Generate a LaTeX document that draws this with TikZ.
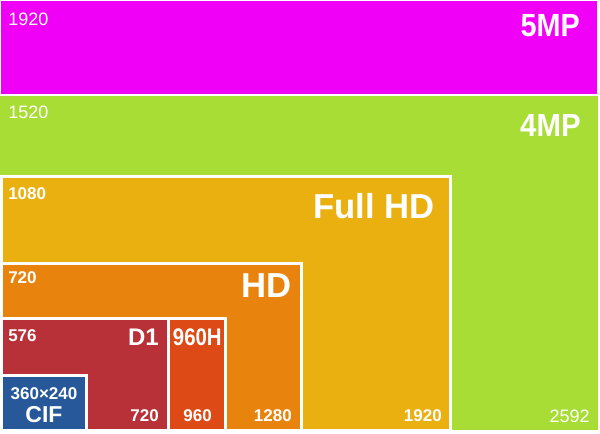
\documentclass[tikz,border=0pt]{standalone}
\usepackage{fontspec}
\usepackage{graphicx}
\setmainfont{Liberation Sans}
\usepackage{xcolor}
\definecolor{mpmagenta}{RGB}{240,0,246}
\definecolor{mpgreen}{RGB}{167,221,52}
\definecolor{fhdgold}{RGB}{233,176,16}
\definecolor{hdorange}{RGB}{232,131,14}
\definecolor{donered}{RGB}{184,48,56}
\definecolor{h960red}{RGB}{222,74,22}
\definecolor{cifblue}{RGB}{38,88,154}

\begin{document}
\begin{tikzpicture}[x=0.75pt,y=-0.75pt]
\tikzstyle{every node}+=[inner sep=0pt, text=white]
\tikzstyle{res}=[draw=white, line width=2.25pt]
\tikzstyle{sidereg}=[font=\fontsize{13.5}{14}\selectfont]
\tikzstyle{sidenum}=[font=\bfseries\fontsize{12.75}{13}\selectfont]
\tikzstyle{bigname}=[font=\bfseries\fontsize{26}{28}\selectfont]
\tikzstyle{mpname}=[font=\bfseries\fontsize{24}{26}\selectfont]
\tikzstyle{midname}=[font=\bfseries\fontsize{18}{20}\selectfont]
\tikzstyle{cifname}=[font=\bfseries\fontsize{17.25}{18}\selectfont]

\fill [white] (0,0) rectangle (600,433);
\useasboundingbox (0,0) rectangle (600,433);

\fill [mpmagenta] (1,1) rectangle (597,94);
\fill [mpgreen] (0,96) rectangle (598,430);

\filldraw [res, fill=fhdgold] (1.5,176.5) rectangle (450.5,430);
\filldraw [res, fill=hdorange] (1.5,263) rectangle (301.5,430);
\filldraw [res, fill=donered] (1.5,318.5) rectangle (168.5,430);
\filldraw [res, fill=h960red] (168.5,318.5) rectangle (225.7,430);
\filldraw [res, fill=cifblue] (1.5,375.3) rectangle (86,430);

\node [sidereg, anchor=base west] (h5mp) at (8,25) {1920};
\node [mpname, anchor=base east] (l5mp) at (580,36) {\scalebox{0.9}[1]{5MP}};

\node [sidereg, anchor=base west] (h4mp) at (8,118) {1520};
\node [mpname, anchor=base east] (l4mp) at (581,136) {\scalebox{0.92}[1]{4MP}};
\node [sidereg, anchor=base east] (w4mp) at (590,422) {2592};

\node [sidenum, anchor=base west] (hfhd) at (8,199) {1080};
\node [bigname, anchor=base east] (lfhd) at (435,218) {Full HD};
\node [sidenum, anchor=base east] (wfhd) at (442,421) {1920};

\node [sidenum, anchor=base west] (hhd) at (8,283) {720};
\node [bigname, anchor=base east] (lhd) at (292,297) {HD};
\node [sidenum, anchor=base east] (whd) at (292,421) {1280};

\node [sidenum, anchor=base west] (hdone) at (8,341) {576};
\node [midname, anchor=base east] (ldone) at (159,345) {D1};
\node [sidenum, anchor=base east] (wdone) at (159,421) {720};

\node [midname, anchor=base east] (lh960) at (222,345) {\scalebox{0.85}[1]{960H}};
\node [sidenum, anchor=base east] (wh960) at (212,421) {960};

\node [sidenum, anchor=base] (scif) at (44,399) {360×240};
\node [cifname, anchor=base] (lcif) at (44,422) {CIF};
\end{tikzpicture}
\end{document}
